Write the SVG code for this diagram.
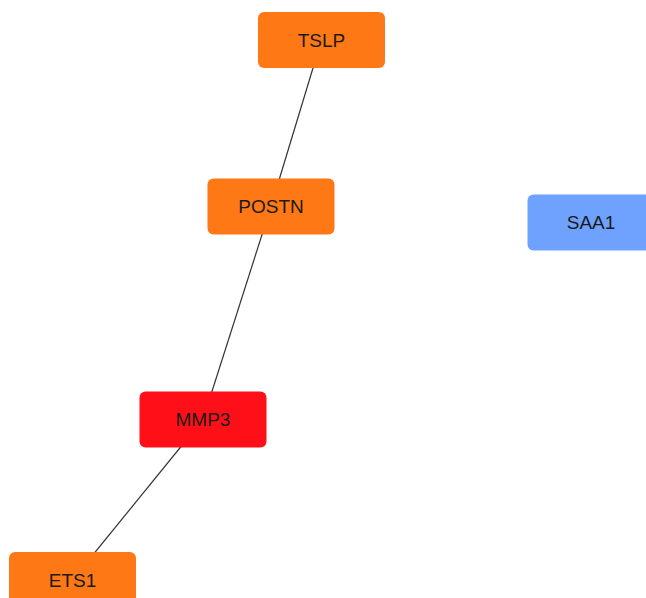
<svg xmlns="http://www.w3.org/2000/svg" width="646" height="598" viewBox="0 0 646 598">
<style>
.n rect{stroke:none}
.n text{font-family:"Liberation Sans",Arial,sans-serif;font-size:19px;fill:#1a1a1a;text-anchor:middle;dominant-baseline:central}
.e line{stroke:#333;stroke-width:1.2}
.or{fill:#FE7815}
.rd{fill:#FF1018}
.bl{fill:#6FA2FF}
</style>
<rect width="646" height="598" fill="#fff"/>
<g id="edges" class="e">
<line x1="321.5" y1="40" x2="271" y2="206.5"/>
<line x1="271" y1="206.5" x2="203" y2="419.5"/>
<line x1="203" y1="419.5" x2="72.5" y2="580"/>
</g>
<g id="TSLP" class="n"><rect class="or" x="258" y="12" width="127" height="56" rx="6"/><text x="321.5" y="40">TSLP</text></g>
<g id="POSTN" class="n"><rect class="or" x="207.5" y="178.5" width="127" height="56" rx="6"/><text x="271" y="206.5">POSTN</text></g>
<g id="SAA1" class="n"><rect class="bl" x="527.5" y="194.5" width="127" height="56" rx="6"/><text x="591" y="222.5">SAA1</text></g>
<g id="MMP3" class="n"><rect class="rd" x="139.5" y="391.5" width="127" height="56" rx="6"/><text x="203" y="419.5">MMP3</text></g>
<g id="ETS1" class="n"><rect class="or" x="9" y="552" width="127" height="56" rx="6"/><text x="72.5" y="580">ETS1</text></g>
</svg>
